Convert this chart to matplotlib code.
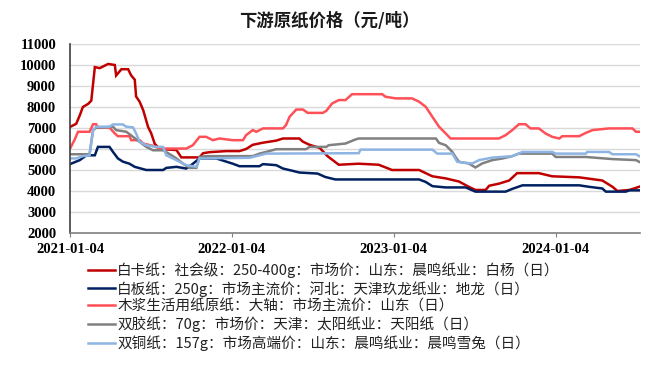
import matplotlib
matplotlib.use("Agg")
import matplotlib.pyplot as plt
import matplotlib.dates as mdates
import pandas as pd

plt.rcParams['font.family'] = ['Noto Sans CJK SC', 'DejaVu Sans']

title = "下游原纸价格（元/吨）"
labels = [
    "白卡纸：社会级：250-400g：市场价：山东：晨鸣纸业：白杨（日）",
    "白板纸：250g：市场主流价：河北：天津玖龙纸业：地龙（日）",
    "木浆生活用纸原纸：大轴：市场主流价：山东（日）",
    "双胶纸：70g：市场价：天津：太阳纸业：天阳纸（日）",
    "双铜纸：157g：市场高端价：山东：晨鸣纸业：晨鸣雪兔（日）",
]
colors = ["#C00000", "#002060", "#FF5058", "#808080", "#8DB4E2"]

red_dates = ["2021-01-04", "2021-01-18", "2021-01-26", "2021-02-02", "2021-02-14", "2021-02-21",
             "2021-03-01", "2021-03-12", "2021-03-31", "2021-04-15", "2021-04-18", "2021-04-30",
             "2021-05-15", "2021-05-22", "2021-05-30", "2021-06-02", "2021-06-10", "2021-06-18",
             "2021-06-29", "2021-07-06", "2021-07-14", "2021-07-25", "2021-09-01", "2021-09-12",
             "2021-10-23", "2021-10-31", "2021-11-15", "2021-12-22", "2022-01-21", "2022-02-05",
             "2022-02-20", "2022-03-15", "2022-04-14", "2022-04-29", "2022-06-05", "2022-06-13",
             "2022-06-28", "2022-07-21", "2022-08-08", "2022-09-02", "2022-10-17", "2022-12-01",
             "2022-12-31", "2023-03-02", "2023-03-17", "2023-04-01", "2023-05-01", "2023-05-31",
             "2023-06-22", "2023-07-07", "2023-07-30", "2023-08-07", "2023-08-29", "2023-09-21",
             "2023-10-09", "2023-11-27", "2023-12-27", "2024-02-26", "2024-04-18", "2024-05-11",
             "2024-05-22", "2024-06-18", "2024-07-03", "2024-07-10"]
red_vals = [7050, 7200, 7600, 8000, 8150, 8300,
            9900, 9850, 10050, 10000, 9500, 9800,
            9800, 9500, 9300, 8500, 8250, 7850,
            7050, 6750, 6250, 6000, 5950, 5600,
            5600, 5800, 5850, 5900, 5900, 6000,
            6200, 6300, 6400, 6500, 6500, 6350,
            6200, 6050, 5650, 5250, 5300, 5250,
            5000, 5000, 4850, 4700, 4600, 4450,
            4200, 4050, 4050, 4250, 4350, 4500,
            4850, 4850, 4700, 4650, 4500, 4200,
            4000, 4050, 4150, 4200]

navy_dates = ["2021-01-04", "2021-01-26", "2021-02-10", "2021-03-01", "2021-03-08", "2021-04-03",
              "2021-04-11", "2021-04-22", "2021-05-03", "2021-05-18", "2021-05-30", "2021-06-25",
              "2021-08-02", "2021-08-09", "2021-09-01", "2021-09-23", "2021-10-04", "2021-10-23",
              "2021-11-30", "2021-12-22", "2022-01-06", "2022-01-21", "2022-03-07", "2022-03-15",
              "2022-04-14", "2022-04-29", "2022-05-21", "2022-06-05", "2022-07-16", "2022-07-28",
              "2022-08-02", "2022-08-25", "2023-03-02", "2023-03-17", "2023-04-01", "2023-05-01",
              "2023-06-15", "2023-07-07", "2023-09-13", "2023-09-28", "2023-10-21", "2024-02-26",
              "2024-03-19", "2024-04-18", "2024-04-26", "2024-06-10", "2024-06-18", "2024-07-10"]
navy_vals = [5280, 5470, 5700, 5700, 6100, 6100,
             5860, 5550, 5400, 5300, 5150, 5000,
             5000, 5100, 5150, 5070, 5230, 5550,
             5550, 5400, 5300, 5180, 5180, 5280,
             5230, 5070, 4960, 4880, 4830, 4720,
             4670, 4550, 4550, 4430, 4230, 4170,
             4170, 3970, 3970, 4100, 4270, 4270,
             4200, 4120, 3970, 3970, 4030, 4030]

pink_dates = ["2021-01-04", "2021-01-14", "2021-01-22", "2021-02-17", "2021-02-25", "2021-03-04",
              "2021-03-08", "2021-04-03", "2021-04-15", "2021-04-22", "2021-05-18", "2021-05-22",
              "2021-06-10", "2021-06-18", "2021-07-10", "2021-07-25", "2021-09-23", "2021-10-08",
              "2021-10-23", "2021-11-07", "2021-11-22", "2021-12-07", "2022-01-06", "2022-01-29",
              "2022-02-05", "2022-02-20", "2022-02-28", "2022-03-15", "2022-04-29", "2022-05-06",
              "2022-05-14", "2022-05-29", "2022-06-13", "2022-06-24", "2022-07-28", "2022-08-05",
              "2022-08-18", "2022-09-02", "2022-09-17", "2022-10-02", "2022-12-09", "2022-12-16",
              "2023-01-08", "2023-02-14", "2023-03-02", "2023-03-17", "2023-04-01", "2023-04-16",
              "2023-05-01", "2023-05-12", "2023-08-29", "2023-09-13", "2023-09-28", "2023-10-13",
              "2023-10-28", "2023-11-08", "2023-11-27", "2023-12-12", "2023-12-27", "2024-01-12",
              "2024-01-19", "2024-02-26", "2024-03-12", "2024-03-27", "2024-05-03", "2024-06-25",
              "2024-07-03", "2024-07-10"]
pink_vals = [6020, 6420, 6820, 6820, 7180, 7180,
             7020, 7020, 6740, 6610, 6610, 6420,
             6420, 6260, 6150, 6020, 6020, 6180,
             6580, 6580, 6420, 6500, 6420, 6420,
             6660, 6900, 6820, 6980, 6980, 7140,
             7530, 7880, 7880, 7720, 7720, 7820,
             8170, 8330, 8330, 8610, 8610, 8490,
             8410, 8410, 8250, 8010, 7530, 7060,
             6740, 6500, 6500, 6660, 6900, 7180,
             7180, 6980, 6980, 6740, 6580, 6500,
             6610, 6610, 6770, 6900, 6980, 6980,
             6820, 6820]

gray_dates = ["2021-01-04", "2021-02-17", "2021-02-25", "2021-03-04", "2021-04-11", "2021-04-18",
              "2021-05-11", "2021-05-26", "2021-06-10", "2021-06-25", "2021-07-10", "2021-08-02",
              "2021-08-17", "2021-09-01", "2021-09-16", "2021-10-01", "2021-10-16", "2021-10-23",
              "2021-11-07", "2022-02-20", "2022-03-07", "2022-03-22", "2022-04-14", "2022-06-20",
              "2022-06-28", "2022-08-05", "2022-08-10", "2022-09-17", "2022-10-09", "2022-10-17",
              "2023-04-09", "2023-04-16", "2023-05-01", "2023-05-16", "2023-05-23", "2023-05-31",
              "2023-06-22", "2023-07-07", "2023-07-22", "2023-08-14", "2023-09-06", "2023-09-28",
              "2023-10-13", "2023-12-27", "2024-01-04", "2024-03-12", "2024-05-11", "2024-07-03",
              "2024-07-10"]
gray_vals = [5750, 5750, 6900, 7010, 7060, 6900,
             6820, 6580, 6340, 6100, 5940, 5940,
             5750, 5550, 5300, 5100, 5100, 5620,
             5660, 5660, 5780, 5860, 5990, 5990,
             6100, 6100, 6180, 6260, 6450, 6500,
             6500, 6290, 6180, 5860, 5620, 5390,
             5310, 5120, 5310, 5470, 5550, 5660,
             5780, 5780, 5620, 5620, 5520, 5470,
             5390]

blue_dates = ["2021-01-04", "2021-01-18", "2021-02-02", "2021-02-17", "2021-02-25", "2021-03-04",
              "2021-04-03", "2021-04-11", "2021-05-03", "2021-05-11", "2021-05-26", "2021-06-02",
              "2021-06-10", "2021-06-25", "2021-07-17", "2021-08-02", "2021-08-09", "2021-08-24",
              "2021-09-08", "2021-09-23", "2021-10-16", "2021-10-23", "2022-02-13", "2022-02-28",
              "2022-03-22", "2022-10-17", "2022-10-21", "2023-04-01", "2023-04-12", "2023-05-16",
              "2023-05-27", "2023-06-15", "2023-06-30", "2023-07-15", "2023-08-14", "2023-09-28",
              "2023-10-21", "2023-12-27", "2024-01-04", "2024-03-12", "2024-03-15", "2024-05-03",
              "2024-05-11", "2024-07-03", "2024-07-10"]
blue_vals = [5550, 5550, 5660, 5700, 6900, 7060,
             7060, 7170, 7170, 7060, 7030, 6740,
             6340, 6180, 6100, 6100, 5700, 5550,
             5390, 5230, 5150, 5550, 5580, 5660,
             5780, 5800, 5970, 5970, 5780, 5780,
             5390, 5340, 5310, 5470, 5590, 5660,
             5860, 5860, 5780, 5780, 5860, 5860,
             5750, 5750, 5660]

tick_dates = ["2021-01-04", "2022-01-04", "2023-01-04", "2024-01-04"]
y_ticks = [2000, 3000, 4000, 5000, 6000, 7000, 8000, 9000, 10000, 11000]

series = [(red_dates, red_vals), (navy_dates, navy_vals), (pink_dates, pink_vals),
          (gray_dates, gray_vals), (blue_dates, blue_vals)]

fig = plt.figure(figsize=(6.54, 3.79), dpi=100)
ax = fig.add_axes([70 / 654, 1 - 233 / 379, 570 / 654, 189 / 379])

lines = []
for (d, v), c, lab in zip(series, colors, labels):
    ln, = ax.plot(pd.to_datetime(d), v, color=c, lw=1.8, label=lab, solid_joinstyle='miter')
    lines.append(ln)

ax.set_ylim(2000, 11000)
ax.set_yticks(y_ticks)
ax.set_xlim(pd.Timestamp("2021-01-04"), pd.Timestamp("2024-07-12"))
ax.set_xticks(pd.to_datetime(tick_dates))
ax.xaxis.set_major_formatter(mdates.DateFormatter("%Y-%m-%d"))
ax.grid(axis='y', color='#D9D9D9', lw=1)
ax.set_axisbelow(True)
for s in ['top', 'right']:
    ax.spines[s].set_visible(False)
ax.spines['left'].set_color('#404040')
ax.spines['bottom'].set_color('#808080')
ax.spines['left'].set_linewidth(1.2)
ax.spines['bottom'].set_linewidth(1.2)
ax.tick_params(axis='y', length=0, pad=10)
ax.tick_params(axis='x', length=3, pad=4, color='#808080')
for t in ax.get_yticklabels() + ax.get_xticklabels():
    t.set_family(['Liberation Serif'])
    t.set_fontweight('bold')
    t.set_fontsize(10.5)

fig.text(329 / 654, 1 - 21 / 379, title, ha='center', va='center', fontsize=12.5,
         fontweight='bold', color='#1a1a1a')

fig.legend(handles=lines, labels=labels, loc='upper left',
           bbox_to_anchor=(88 / 654, 1 - 262 / 379), frameon=False, fontsize=10.5,
           handlelength=1.85, handletextpad=0.15, labelspacing=0.2,
           borderpad=0, borderaxespad=0, labelcolor='#222222')

fig.savefig("out.png", dpi=100)
